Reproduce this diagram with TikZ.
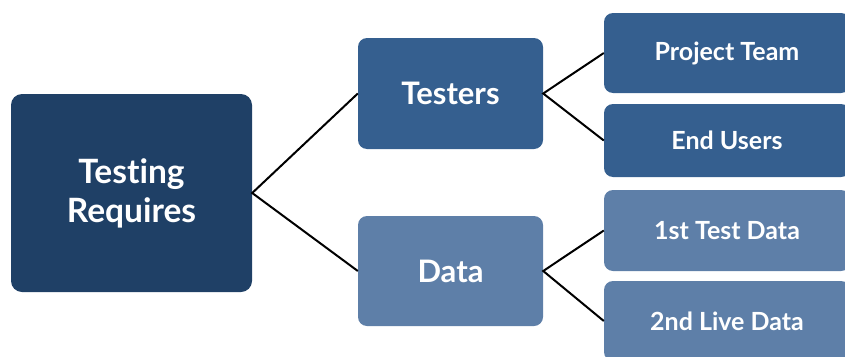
\documentclass[tikz,border=0pt]{standalone}
\usepackage{fontspec}
\setmainfont[Ligatures={NoCommon,NoRare}]{Lato}
\definecolor{cRoot}{HTML}{1F4066}
\definecolor{cMid}{HTML}{355F8F}
\definecolor{cLight}{HTML}{5E7FA8}
\begin{document}
\begin{tikzpicture}[x=1pt,y=-1pt,
  box/.style={rounded corners=9pt, text=white, font=\bfseries, align=center, inner sep=0pt, minimum width=#1},
  rootbox/.style={box=241pt, fill=cRoot, minimum height=198pt, rounded corners=11pt, font=\fontsize{33.5}{39}\selectfont\bfseries},
  midbox/.style={box=185pt, font=\fontsize{31}{36}\selectfont\bfseries},
  leafbox/.style={box=246pt, font=\fontsize{25}{30}\selectfont\bfseries},
  link/.style={draw=black, line width=2pt}]
\useasboundingbox (0,0) rectangle (845,356);
\clip (0,0) rectangle (845,356);
\node[rootbox] (root) at (131.5,193) {Testing\\Requires};
\node[midbox, fill=cMid, minimum height=111pt] (testers) at (450.5,93.5) {Testers};
\node[midbox, fill=cLight, minimum height=110pt] (data) at (450.5,271) {Data};
\node[leafbox, fill=cMid, minimum height=80pt] (pt) at (727,53) {Project Team};
\node[leafbox, fill=cMid, minimum height=73pt] (eu) at (727,140.5) {End Users};
\node[leafbox, fill=cLight, minimum height=81pt] (t1) at (727,230.5) {1st Test Data};
\node[leafbox, fill=cLight, minimum height=80pt] (t2) at (727,321) {2nd Live Data};
\draw[link] (testers.west) -- (root.east) -- (data.west);
\draw[link] (pt.west) -- (testers.east) -- (eu.west);
\draw[link] (t1.west) -- (data.east) -- (t2.west);
\end{tikzpicture}
\end{document}
